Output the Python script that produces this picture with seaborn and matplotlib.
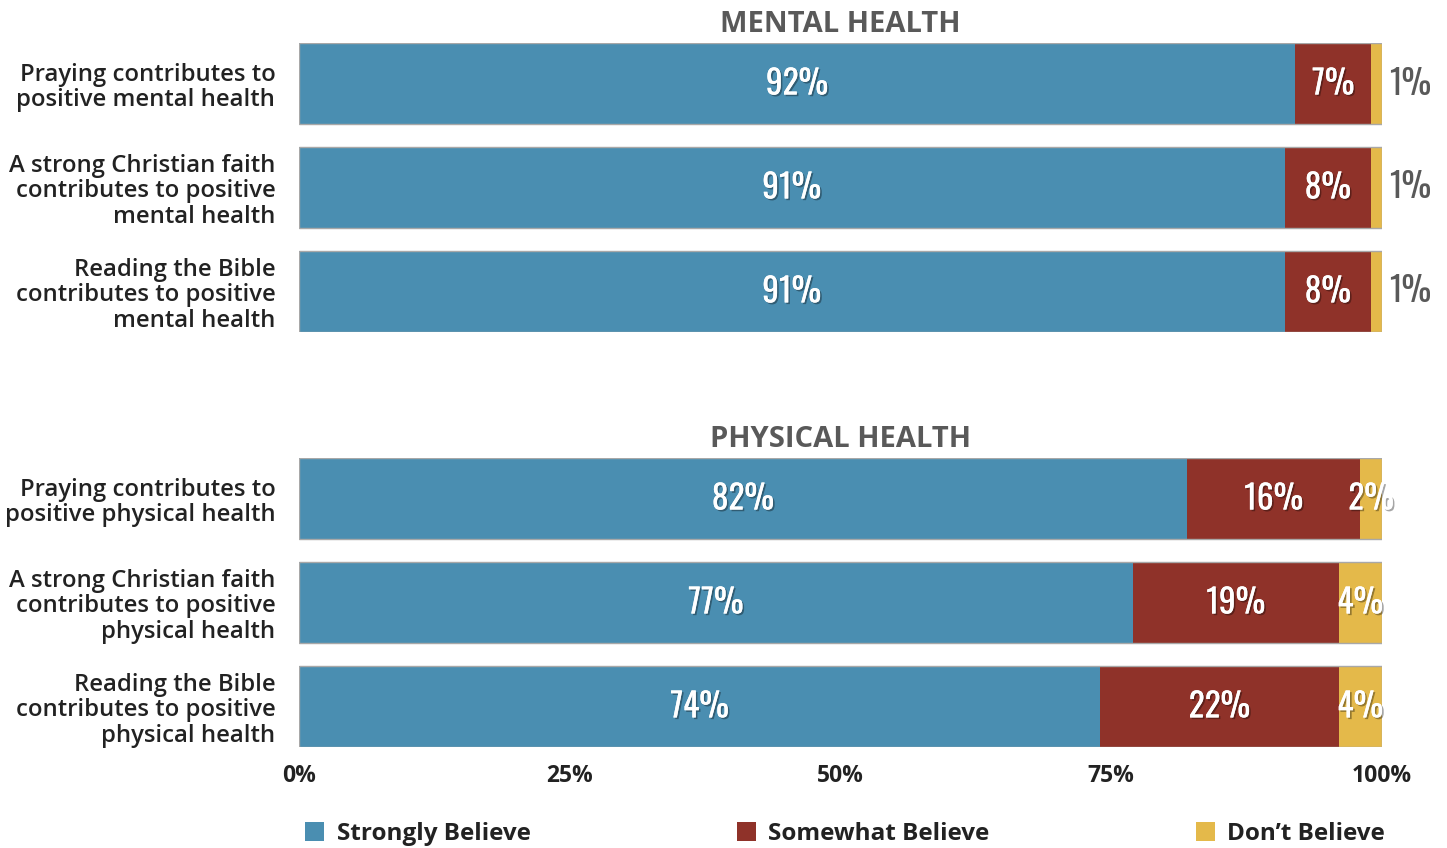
import numpy as np
import pandas as pd
import matplotlib
matplotlib.use("Agg")
import matplotlib.pyplot as plt
import matplotlib.patheffects as pe
from matplotlib.patches import Patch
import seaborn as sns

# ----------------------------------------------
# Data
# ----------------------------------------------
MENTAL_LABELS = [
    "Praying contributes to\npositive mental health",
    "A strong Christian faith\ncontributes to positive\nmental health",
    "Reading the Bible\ncontributes to positive\nmental health",
]
MENTAL_STRONG   = [92, 91, 91]
MENTAL_SOMEWHAT = [7, 8, 8]
MENTAL_DONT     = [1, 1, 1]

PHYS_LABELS = [
    "Praying contributes to\npositive physical health",
    "A strong Christian faith\ncontributes to positive\nphysical health",
    "Reading the Bible\ncontributes to positive\nphysical health",
]
PHYS_STRONG   = [82, 77, 74]
PHYS_SOMEWHAT = [16, 19, 22]
PHYS_DONT     = [2, 4, 4]

SERIES = ["Strongly Believe", "Somewhat Believe", "Don\u2019t Believe"]
X_TICKS = [0, 25, 50, 75, 100]
X_TICK_LABELS = ["0%", "25%", "50%", "75%", "100%"]

# ----------------------------------------------
# Style
# ----------------------------------------------
COLORS = {
    "strong"   : "#4a8eb1",
    "somewhat" : "#8f3229",
    "dont"     : "#e4b94a",
}
TEXT_DARK  = "#222222"
TITLE_GRAY = "#595959"

sns.set_style("white")
plt.rcParams["font.family"] = ["Open Sans", "DejaVu Sans"]
NUM_FONT   = ["Oswald", "Liberation Sans Narrow", "DejaVu Sans"]

fig = plt.figure(figsize=(14.47, 8.48), dpi=100)
ax_top = fig.add_axes([0.2066, 0.6085, 0.7485, 0.3408])
ax_bot = fig.add_axes([0.2066, 0.1191, 0.7485, 0.3408])

shadow = [pe.withSimplePatchShadow(offset=(1.2, -1.2), shadow_rgbFace="black", alpha=0.35),
          pe.Normal()]


def draw_panel(ax, labels, strong, somewhat, dont, title):
    df = pd.DataFrame({
        "item": labels,
        "strong": strong,
        "somewhat": somewhat,
        "dont": dont,
    })
    df["cum_somewhat"] = df["strong"] + df["somewhat"]
    df["total"] = df["cum_somewhat"] + df["dont"]

    # layered cumulative bars -> stacked look
    sns.barplot(data=df, x="total", y="item", color=COLORS["dont"],
                orient="h", width=0.78, saturation=1, linewidth=0, ax=ax)
    sns.barplot(data=df, x="cum_somewhat", y="item", color=COLORS["somewhat"],
                orient="h", width=0.78, saturation=1, linewidth=0, ax=ax)
    sns.barplot(data=df, x="strong", y="item", color=COLORS["strong"],
                orient="h", width=0.78, saturation=1, linewidth=0, ax=ax)
    sns.barplot(data=df, x="total", y="item", color="#a8a8a8", fill=False,
                orient="h", width=0.78, linewidth=1.0, ax=ax)

    kw = dict(ha="center", va="center", fontsize=24, family=NUM_FONT)
    for i, row in df.iterrows():
        ax.text(row["strong"] / 2, i, f"{row['strong']}%",
                color="white", path_effects=shadow, **kw)
        ax.text(row["strong"] + row["somewhat"] / 2, i, f"{row['somewhat']}%",
                color="white", path_effects=shadow, **kw)
        if row["dont"] <= 1:
            ax.text(row["total"] + 2.6, i, f"{row['dont']}%",
                    color=TITLE_GRAY, clip_on=False, **kw)
        else:
            ax.text(row["cum_somewhat"] + row["dont"] / 2, i, f"{row['dont']}%",
                    color="white", path_effects=shadow, clip_on=False, **kw)

    ax.set_xlim(0, 100)
    ax.set_ylim(2.39, -0.39)
    ax.set_xlabel("")
    ax.set_ylabel("")
    ax.set_title(title, color=TITLE_GRAY, fontsize=21, fontweight="bold", pad=8)
    ax.tick_params(axis="y", length=0, pad=17, labelsize=17.2, labelcolor=TEXT_DARK)
    for lab in ax.get_yticklabels():
        lab.set_fontweight("semibold")
        lab.set_linespacing(1.08)
    sns.despine(ax=ax, left=True, bottom=True)


draw_panel(ax_top, MENTAL_LABELS, MENTAL_STRONG, MENTAL_SOMEWHAT, MENTAL_DONT,
           "MENTAL HEALTH")
draw_panel(ax_bot, PHYS_LABELS, PHYS_STRONG, PHYS_SOMEWHAT, PHYS_DONT,
           "PHYSICAL HEALTH")

ax_top.set_xticks([])
ax_bot.set_xticks(X_TICKS)
ax_bot.set_xticklabels(X_TICK_LABELS, fontsize=16.5, fontweight="bold", color=TEXT_DARK)
ax_bot.tick_params(axis="x", length=0, pad=12)

# ----------------------------------------------
# Legend
# ----------------------------------------------
handles = [Patch(facecolor=COLORS[k], edgecolor="none")
           for k in ["strong", "somewhat", "dont"]]
fig.legend(handles, SERIES, loc="lower left", ncol=3, mode="expand",
           bbox_to_anchor=(0.204, -0.009, 0.76, 0.035), frameon=False,
           handlelength=0.8, handleheight=0.8, handletextpad=0.5,
           prop={"size": 17.5, "weight": "bold"},
           labelcolor=TEXT_DARK, borderaxespad=0.0)

fig.savefig("out.png", dpi=100)
plt.close(fig)
